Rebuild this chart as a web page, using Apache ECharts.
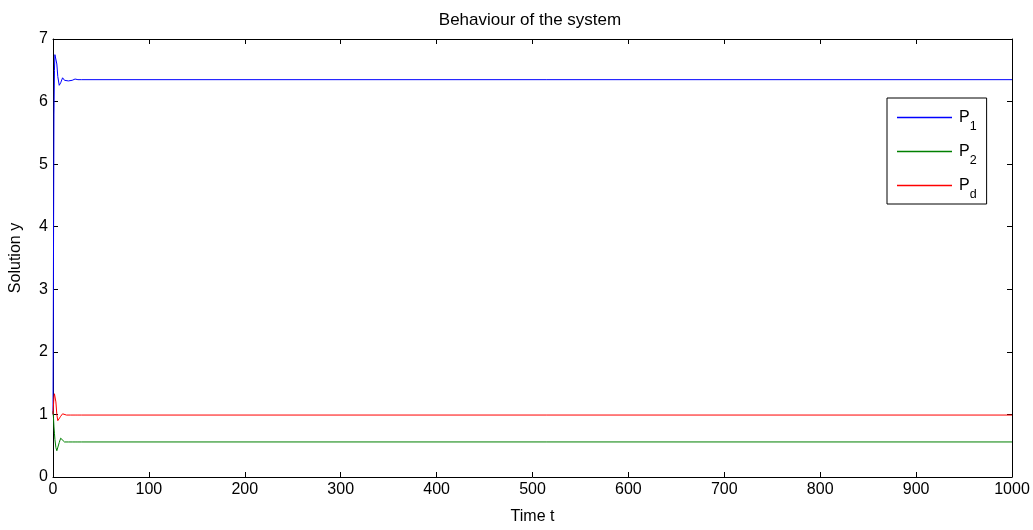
<!DOCTYPE html>
<html>
<head>
<meta charset="utf-8">
<script src="https://cdn.jsdelivr.net/npm/echarts@6/dist/echarts.min.js"></script>
<style>html,body{margin:0;padding:0;background:#fff}#c{width:1033px;height:530px}</style>
</head>
<body>
<div id="c"></div>
<script>
var timeT = [0, 0.5, 1, 1.5, 2, 3, 4, 5, 6.5, 8, 10, 12, 14, 16, 18, 20, 23, 26, 30, 1000];
var P1 = [1.0, 3.5, 5.8, 6.5, 6.75, 6.78, 6.6, 6.4, 6.26, 6.3, 6.38, 6.34, 6.36, 6.33, 6.36, 6.34, 6.36, 6.35, 6.35, 6.35];
var P2 = [1.05, 0.95, 0.8, 0.7, 0.6, 0.47, 0.42, 0.45, 0.55, 0.62, 0.6, 0.56, 0.555, 0.56, 0.56, 0.56, 0.56, 0.56, 0.56, 0.56];
var Pd = [1.0, 1.15, 1.28, 1.33, 1.35, 1.2, 1.0, 0.9, 0.9, 0.97, 1.01, 0.99, 0.99, 0.99, 0.99, 0.99, 0.99, 0.99, 0.99, 0.99];
var seriesNames = ['P1', 'P2', 'Pd'];
var subs = {P1: '1', P2: '2', Pd: 'd'};
var colors = ['#0000ff', '#008000', '#ff0000'];

function pairs(v) { return timeT.map(function (t, i) { return [t, v[i]]; }); }
var FONT = 'Liberation Sans, Arial, sans-serif';
var chart = echarts.init(document.getElementById('c'));
var axisLine = {show: true, onZero: false, lineStyle: {color: '#000', width: 1}};
var tickIn = {show: true, inside: true, length: 5, lineStyle: {color: '#000'}};
chart.setOption({
  animation: false,
  backgroundColor: '#fff',
  title: {text: 'Behaviour of the system', left: 530, textAlign: 'center', top: 12, padding: 0,
    textStyle: {fontFamily: FONT, fontSize: 17, fontWeight: 'normal', color: '#000'}},
  grid: {left: 52, right: 21, top: 39, bottom: 50},
  legend: {
    orient: 'vertical', left: 887, top: 98,
    borderColor: '#000', borderWidth: 1, padding: [4, 10, 3, 10],
    itemWidth: 55, itemHeight: 1.5, icon: 'rect', itemGap: 3,
    data: seriesNames,
    formatter: function (n) { return '{a|P}{b|' + subs[n] + '}'; },
    textStyle: {fontFamily: FONT, color: '#000',
      rich: {a: {fontSize: 16, fontFamily: FONT, lineHeight: 24, color: '#000', padding: [0, 0, 0, 2]},
             b: {fontSize: 12.5, fontFamily: FONT, lineHeight: 24, padding: [18, 0, 0, 0], color: '#000'}}}
  },
  xAxis: [
    {type: 'value', min: 0, max: 1000, interval: 100, position: 'bottom',
     name: 'Time t', nameLocation: 'middle', nameGap: 32,
     nameTextStyle: {fontFamily: FONT, fontSize: 16, color: '#000'},
     axisLine: axisLine, axisTick: tickIn, splitLine: {show: false},
     axisLabel: {fontFamily: FONT, fontSize: 16, color: '#000', margin: 5, formatter: function (v) { return String(v); }}},
    {type: 'value', min: 0, max: 1000, interval: 100, position: 'top',
     axisLine: axisLine, axisTick: tickIn, splitLine: {show: false}, axisLabel: {show: false}}
  ],
  yAxis: [
    {type: 'value', min: 0, max: 7, interval: 1, position: 'left',
     name: 'Solution y', nameLocation: 'middle', nameGap: 29,
     nameTextStyle: {fontFamily: FONT, fontSize: 16, color: '#000'},
     axisLine: axisLine, axisTick: tickIn, splitLine: {show: false},
     axisLabel: {fontFamily: FONT, fontSize: 16, color: '#000', margin: 5}},
    {type: 'value', min: 0, max: 7, interval: 1, position: 'right',
     axisLine: axisLine, axisTick: tickIn, splitLine: {show: false}, axisLabel: {show: false}}
  ],
  series: [
    {name: 'P1', type: 'line', data: pairs(P1), symbol: 'none', lineStyle: {width: 1, color: colors[0]}, itemStyle: {color: colors[0]}},
    {name: 'P2', type: 'line', data: pairs(P2), symbol: 'none', lineStyle: {width: 1, color: colors[1]}, itemStyle: {color: colors[1]}},
    {name: 'Pd', type: 'line', data: pairs(Pd), symbol: 'none', lineStyle: {width: 1, color: colors[2]}, itemStyle: {color: colors[2]}}
  ]
});
</script>
</body>
</html>
